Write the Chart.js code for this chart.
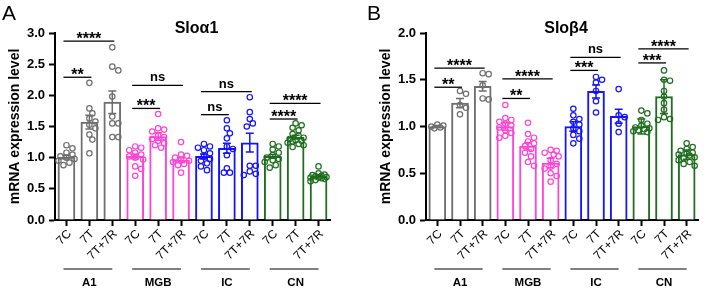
<!DOCTYPE html>
<html>
<head>
<meta charset="utf-8">
<script src="https://cdn.jsdelivr.net/npm/chart.js@4.4.0/dist/chart.umd.min.js"></script>
<style>
  html, body { margin: 0; padding: 0; background: #fff; }
  #wrap { position: relative; width: 708px; height: 289px; overflow: hidden; }
  .panel { position: absolute; top: 0; height: 289px; width: 354px; }
</style>
</head>
<body>
<div id="wrap">
  <div class="panel" style="left:0"><canvas id="chartA"></canvas></div>
  <div class="panel" style="left:354px"><canvas id="chartB"></canvas></div>
</div>
<script>
// ===== DATA =====
const categories = ["7C", "7T", "7T+7R", "7C", "7T", "7T+7R", "7C", "7T", "7T+7R", "7C", "7T", "7T+7R"];
const regions = ["A1", "MGB", "IC", "CN"];
const regionColors = ["#6e6e6e", "#ff45d4", "#1414ff", "#1f6e1f"];

// Panel A - Sloα1
const alphaTicks = [0, 0.5, 1.0, 1.5, 2.0, 2.5, 3.0];
const alphaMean = [1.01, 1.57, 1.89, 1.02, 1.34, 0.96, 1.02, 1.15, 1.24, 1.02, 1.33, 0.70];
const alphaSem = [0.03, 0.11, 0.18, 0.04, 0.06, 0.04, 0.04, 0.08, 0.15, 0.03, 0.03, 0.02];
const alphaPoints = [
  [1.2, 1.15, 1.08, 1.05, 1.02, 1.0, 0.98, 0.95, 0.92, 0.88],
  [2.2, 1.79, 1.71, 1.63, 1.58, 1.53, 1.47, 1.37, 1.29, 1.07],
  [2.77, 2.46, 2.40, 1.98, 1.66, 1.55, 1.55, 1.33, 1.33],
  [1.18, 1.16, 1.12, 1.08, 1.05, 1.02, 1.0, 0.97, 0.86, 0.82, 0.71],
  [1.70, 1.47, 1.45, 1.42, 1.36, 1.33, 1.30, 1.27, 1.23, 1.20, 1.16],
  [1.25, 1.05, 1.03, 1.0, 0.97, 0.95, 0.93, 0.9, 0.88, 0.76],
  [1.22, 1.18, 1.16, 1.12, 1.07, 1.02, 0.98, 0.95, 0.91, 0.86, 0.80],
  [1.6, 1.47, 1.39, 1.31, 1.18, 1.14, 1.04, 0.83, 0.76, 0.76],
  [1.97, 1.73, 1.62, 1.55, 1.5, 0.87, 0.87, 0.78, 0.74, 0.72],
  [1.22, 1.18, 1.13, 1.08, 1.04, 1.0, 0.98, 0.96, 0.93, 0.88, 0.84],
  [1.55, 1.52, 1.48, 1.44, 1.38, 1.35, 1.32, 1.30, 1.28, 1.27, 1.26, 1.24, 1.22, 1.2, 1.17],
  [0.86, 0.75, 0.73, 0.72, 0.71, 0.70, 0.69, 0.68, 0.68, 0.67, 0.66, 0.64, 0.62]
];
// [from, to, height, label]
const alphaBrackets = [
  [0, 1, 2.29, "**"], [0, 2, 2.87, "****"],
  [3, 4, 1.79, "***"], [3, 5, 2.16, "ns"],
  [6, 7, 1.69, "ns"], [6, 8, 2.06, "ns"],
  [9, 10, 1.62, "****"], [9, 11, 1.87, "****"]
];

// Panel B - Sloβ4
const betaTicks = [0, 0.5, 1.0, 1.5, 2.0];
const betaMean = [1.0, 1.25, 1.43, 1.0, 0.79, 0.61, 1.0, 1.375, 1.11, 1.0, 1.32, 0.70];
const betaSem = [0.01, 0.05, 0.05, 0.04, 0.04, 0.05, 0.05, 0.07, 0.075, 0.08, 0.18, 0.05];
const betaPoints = [
  [1.02, 1.01, 1.0, 0.99, 0.98],
  [1.38, 1.35, 1.23, 1.2, 1.13],
  [1.57, 1.56, 1.44, 1.3, 1.29],
  [1.23, 1.09, 1.07, 1.05, 1.03, 1.01, 0.99, 0.96, 0.93, 0.9, 0.88],
  [1.04, 0.92, 0.88, 0.84, 0.82, 0.79, 0.76, 0.72, 0.68, 0.62, 0.58],
  [0.75, 0.74, 0.72, 0.7, 0.68, 0.64, 0.6, 0.57, 0.55, 0.5, 0.47, 0.41],
  [1.19, 1.12, 1.08, 1.05, 1.02, 0.98, 0.95, 0.91, 0.87, 0.82],
  [1.53, 1.5, 1.47, 1.38, 1.27, 1.15],
  [1.4, 1.12, 1.1, 1.03, 0.94],
  [1.17, 1.14, 1.07, 1.03, 1.01, 0.99, 0.98, 0.97, 0.96, 0.95, 0.94],
  [1.6, 1.5, 1.49, 1.38, 1.32, 1.25, 1.18, 1.1, 1.08, 1.07],
  [0.82, 0.78, 0.76, 0.74, 0.72, 0.71, 0.7, 0.69, 0.67, 0.66, 0.64, 0.62, 0.6, 0.58]
];
const betaBrackets = [
  [0, 1, 1.42, "**"], [0, 2, 1.625, "****"],
  [3, 4, 1.30, "**"], [3, 5, 1.51, "****"],
  [6, 7, 1.60, "***"], [6, 8, 1.74, "ns"],
  [9, 10, 1.68, "***"], [9, 11, 1.83, "****"]
];

// ===== HELPERS =====
const FONT = "'Liberation Sans', Arial, sans-serif";

// spread points sideways so they don't sit on top of each other (dot plot look)
function spread(values, pxPerUnit, pxPerCat) {
  const steps = [0, 3, -3, 6, -6, 8, -8];
  const placed = [];
  const offs = new Array(values.length).fill(0);
  const order = values.map((v, i) => i).sort((a, b) => values[b] - values[a]);
  order.forEach(i => {
    const py = values[i] * pxPerUnit;
    let best = 0, bestD = -1;
    for (const s of steps) {
      let d = Infinity;
      placed.forEach(p => { d = Math.min(d, Math.hypot(p[0] - s, p[1] - py)); });
      if (d >= 5.2) { best = s; break; }
      if (d > bestD) { bestD = d; best = s; }
    }
    placed.push([best, py]);
    offs[i] = best / pxPerCat;
  });
  return offs;
}

function makeDecor(p) {
  return {
    id: "decor",
    afterDatasetDraw(chart, args) {
      if (args.meta.type !== "bar") return;
      const ctx = chart.ctx, x = chart.scales.x, y = chart.scales.y;
      ctx.save();
      ctx.lineWidth = 1.5;
      p.mean.forEach((m, i) => {
        const px = x.getPixelForValue(i);
        const t = y.getPixelForValue(m + p.sem[i]);
        const b = y.getPixelForValue(m - p.sem[i]);
        ctx.strokeStyle = regionColors[Math.floor(i / 3)];
        ctx.beginPath();
        ctx.moveTo(px, t); ctx.lineTo(px, b);
        ctx.moveTo(px - 4, t); ctx.lineTo(px + 4, t);
        ctx.moveTo(px - 4, b); ctx.lineTo(px + 4, b);
        ctx.stroke();
      });
      ctx.restore();
    },
    afterDraw(chart) {
      const ctx = chart.ctx, x = chart.scales.x, y = chart.scales.y;
      const area = chart.chartArea;
      ctx.save();
      // significance brackets
      ctx.strokeStyle = "#000";
      ctx.fillStyle = "#000";
      ctx.lineWidth = 1.3;
      ctx.textAlign = "center";
      ctx.textBaseline = "alphabetic";
      p.brackets.forEach(([a, b, h, lab]) => {
        const x0 = x.getPixelForValue(a) - 3;
        const x1 = x.getPixelForValue(b) + 2;
        const py = y.getPixelForValue(h);
        ctx.beginPath();
        ctx.moveTo(x0, py); ctx.lineTo(x1, py);
        ctx.stroke();
        if (lab === "ns") {
          ctx.font = "bold 13px " + FONT;
          ctx.fillText(lab, (x0 + x1) / 2, py - 4);
        } else {
          ctx.font = "bold 16px " + FONT;
          ctx.fillText(lab, (x0 + x1) / 2, py + 3);
        }
      });
      // region groups under the axis
      ctx.lineWidth = 1.5;
      ctx.strokeStyle = "#555";
      ctx.font = "bold 11.5px " + FONT;
      ctx.textBaseline = "middle";
      regions.forEach((r, g) => {
        const x0 = x.getPixelForValue(g * 3) - 3;
        const x1 = x.getPixelForValue(g * 3 + 2);
        ctx.beginPath();
        ctx.moveTo(x0, 269); ctx.lineTo(x1, 269);
        ctx.stroke();
        ctx.fillText(r, x.getPixelForValue(g * 3 + 1), 283);
      });
      // title and panel letter
      ctx.textBaseline = "alphabetic";
      ctx.font = "bold 16px " + FONT;
      ctx.fillText(p.title, (area.left + area.right) / 2 + 4, 33);
      ctx.textAlign = "left";
      ctx.font = "21px " + FONT;
      ctx.fillText(p.letter, p.letterX, 20);
      ctx.restore();
    }
  };
}

function makePanel(canvasId, p) {
  const plotW = 354 - p.pad.left - 55 - p.pad.right;
  const pxPerCat = plotW / 12;
  const pxPerUnit = 187 / p.ymax;
  const pts = [], ptColors = [];
  p.points.forEach((vals, i) => {
    const offs = spread(vals, pxPerUnit, pxPerCat);
    vals.forEach((v, k) => {
      pts.push({ x: i + offs[k], y: v });
      ptColors.push(regionColors[Math.floor(i / 3)]);
    });
  });
  const bars = p.mean.map((m, i) => ({ x: i, y: m }));
  const barColors = categories.map((c, i) => regionColors[Math.floor(i / 3)]);

  return new Chart(document.getElementById(canvasId).getContext("2d"), {
    type: "bar",
    data: {
      datasets: [
        {
          type: "bar",
          data: bars,
          backgroundColor: "#fff",
          borderColor: barColors,
          borderWidth: 2,
          borderSkipped: "start",
          grouped: false,
          barThickness: 17,
          order: 1
        },
        {
          type: "scatter",
          data: pts,
          pointRadius: 2.7,
          pointBorderWidth: 1.2,
          pointBorderColor: ptColors,
          pointBackgroundColor: "rgba(255,255,255,0)",
          showLine: false,
          order: 0
        }
      ]
    },
    options: {
      responsive: true,
      maintainAspectRatio: false,
      animation: false,
      layout: { padding: { left: p.pad.left, right: p.pad.right, top: 33, bottom: 0 } },
      plugins: { legend: { display: false }, tooltip: { enabled: false } },
      scales: {
        x: {
          type: "linear",
          min: -0.5,
          max: 11.5,
          offset: false,
          afterBuildTicks: s => { s.ticks = categories.map((c, i) => ({ value: i })); },
          grid: { offset: false, drawOnChartArea: false, drawTicks: true, tickLength: 6, tickWidth: 2, tickColor: "#000" },
          border: { display: true, width: 2, color: "#000" },
          ticks: {
            autoSkip: false, maxRotation: 45, minRotation: 45, padding: 1, labelOffset: 3,
            color: "#000", font: { family: FONT, size: 12 },
            callback: v => categories[Math.round(v)]
          },
          afterFit: s => { s.height = 69; }
        },
        y: {
          min: 0,
          max: p.ymax,
          afterBuildTicks: s => { s.ticks = p.ticks.map(v => ({ value: v })); },
          border: { display: true, width: 2, color: "#000" },
          grid: { drawOnChartArea: false, drawTicks: true, tickLength: 6, tickWidth: 2, tickColor: "#000" },
          ticks: {
            padding: 4, color: "#000",
            font: { family: FONT, size: 13, weight: "bold" },
            callback: v => Number(v).toFixed(1)
          },
          title: {
            display: true, text: "mRNA expression level", color: "#000",
            font: { family: FONT, size: 14, weight: "bold" },
            padding: { top: 7, bottom: 0 }
          },
          afterFit: s => { s.width = 55; }
        }
      }
    },
    plugins: [makeDecor(p)]
  });
}

// ===== CHARTS =====
makePanel("chartA", {
  title: "Sloα1", letter: "A", letterX: 2,
  ymax: 3, ticks: alphaTicks,
  mean: alphaMean, sem: alphaSem, points: alphaPoints, brackets: alphaBrackets,
  pad: { left: 0, right: 24 }
});

makePanel("chartB", {
  title: "Sloβ4", letter: "B", letterX: 13,
  ymax: 2, ticks: betaTicks,
  mean: betaMean, sem: betaSem, points: betaPoints, brackets: betaBrackets,
  pad: { left: 17, right: 10 }
});
</script>
</body>
</html>
